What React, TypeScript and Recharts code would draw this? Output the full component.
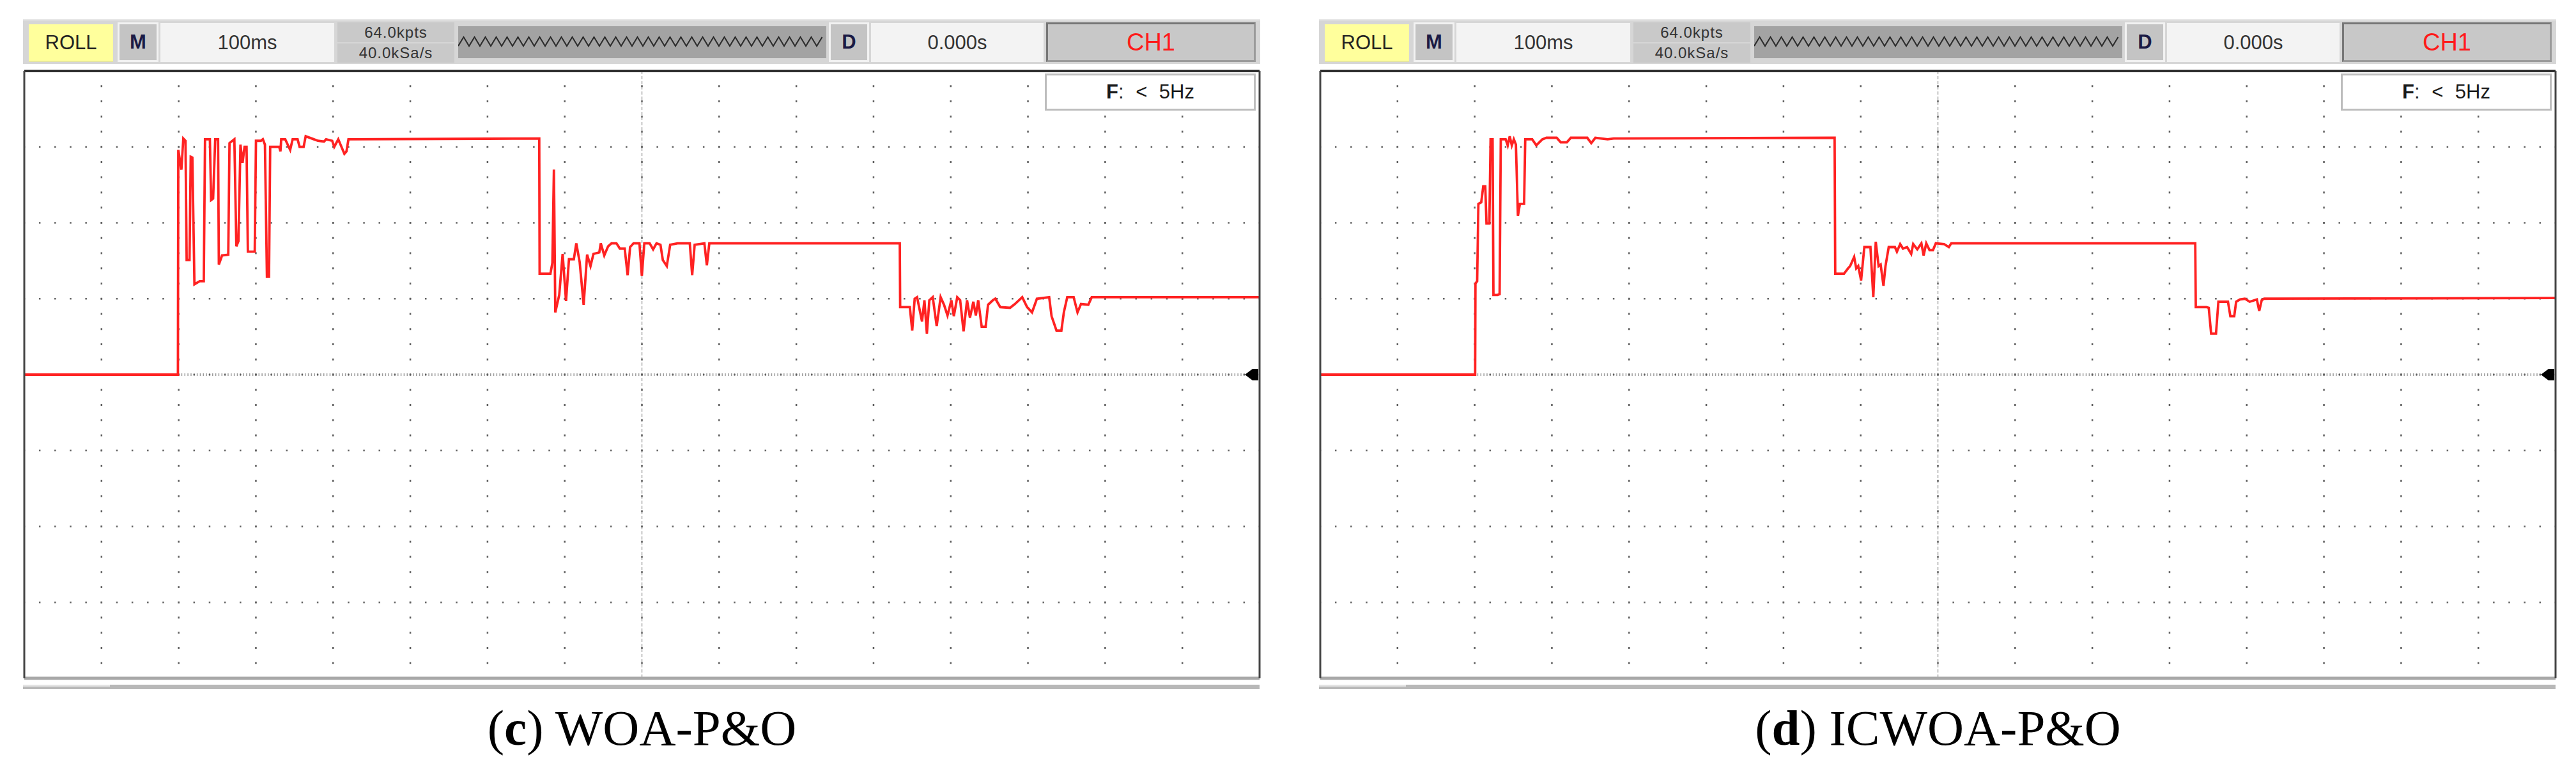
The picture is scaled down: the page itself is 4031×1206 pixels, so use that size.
import React from "react";
import { LineChart, Line, XAxis, YAxis, CartesianGrid, ReferenceDot } from "recharts";

// time in ms (100 ms per division), level in divisions above the ground marker

// (c) WOA-P&O
const woaTime = [
  0, 199, 199.5, 203.5, 206, 208.8, 210.3, 214, 215.6, 217.7,
  220.4, 227.2, 232.5, 234.1, 240.4, 242, 244.6, 247.3, 251, 252,
  256.2, 264.2, 265.8, 272.1, 274.7, 277.4, 280, 282.7, 285.3, 287.9,
  289.6, 298.5, 300.1, 306.4, 309, 311.7, 314.3, 317, 318.5, 330.2,
  331.8, 332.8, 338, 344.4, 347.6, 354, 356.6, 361.8, 364.5, 375.1,
  380.3, 388.2, 390.9, 398.8, 401.5, 406.7, 414.6, 417.3, 419.9, 667,
  667.5, 681.5, 684, 686, 687.8, 692.9, 697.3, 701.7, 705.5, 711.8,
  715, 719.4, 724.5, 729, 733.4, 737.2, 744.8, 746.7, 751.2, 756.2,
  760.6, 767, 771.4, 777.7, 781.5, 784.7, 789.1, 796.8, 799.9, 803.1,
  810, 814.5, 818.9, 824, 827.1, 832.2, 836.6, 846.1, 862, 865.1,
  868.3, 880.9, 884.1, 887.3, 1134, 1134.5, 1147, 1150.1, 1153.3, 1156.4,
  1162.8, 1165.9, 1169.1, 1172.3, 1176.7, 1181.8, 1186.9, 1191.3, 1195.8, 1200.8,
  1204, 1208.4, 1212.2, 1216.6, 1221.1, 1224.9, 1229.3, 1232.5, 1235.6, 1240.1,
  1245.2, 1248.3, 1254.6, 1257.8, 1264.1, 1276.8, 1283.1, 1292.6, 1298.9, 1305.3,
  1311.6, 1327.5, 1330.6, 1337, 1343.3, 1346.5, 1350.9, 1359.2, 1364.2, 1368.7,
  1378.2, 1382.6, 1600,
];
const woaLevel = [
  0, 0, 2.96, 2.7, 3.11, 3.08, 1.51, 1.51, 2.87, 2.86,
  1.19, 1.23, 1.23, 3.1, 3.1, 2.3, 2.32, 3.1, 3.1, 1.45,
  1.57, 1.58, 3.05, 3.1, 1.69, 1.76, 3.03, 2.79, 3.0, 3.0,
  1.62, 1.62, 3.08, 3.08, 3.1, 3.03, 1.29, 1.29, 3.0, 3.0,
  2.94, 3.1, 3.1, 2.96, 3.1, 3.1, 3.0, 3.0, 3.14, 3.1,
  3.08, 3.07, 3.1, 3.08, 3.0, 3.1, 2.91, 2.94, 3.1, 3.11,
  1.33, 1.33, 1.47, 2.7, 0.82, 1.05, 1.59, 0.97, 1.52, 1.52,
  1.73, 1.48, 0.92, 1.58, 1.43, 1.59, 1.61, 1.73, 1.57, 1.69,
  1.73, 1.73, 1.66, 1.66, 1.31, 1.68, 1.73, 1.73, 1.3, 1.73,
  1.73, 1.65, 1.73, 1.71, 1.51, 1.43, 1.71, 1.73, 1.73, 1.31,
  1.71, 1.73, 1.44, 1.73, 1.73, 0.89, 0.89, 0.58, 1.0, 1.02,
  0.7, 0.98, 0.54, 0.98, 1.02, 0.64, 1.02, 0.92, 0.78, 0.98,
  0.77, 1.02, 0.98, 0.57, 0.98, 0.75, 0.96, 0.78, 0.98, 0.63,
  0.63, 0.92, 0.98, 1.0, 0.89, 0.88, 0.93, 1.02, 0.89, 0.82,
  1.0, 1.02, 0.77, 0.58, 0.58, 0.82, 1.02, 1.02, 0.82, 0.93,
  0.92, 1.02, 1.02,
];

// (d) ICWOA-P&O
const icwoaTime = [
  0, 200.6, 201, 203.2, 204.8, 208.5, 211.1, 213.7, 215.3, 219,
  220.6, 223.2, 224.3, 229.6, 232.3, 233.8, 240.1, 242.8, 245.4, 248.1,
  250.7, 253.4, 256, 258.6, 264, 265.5, 274.5, 279.8, 287.7, 293,
  306.2, 311.4, 319.4, 324.6, 345.8, 351, 356.3, 372.2, 380.1, 666.2,
  667, 678.4, 683.6, 686.3, 691.5, 694.2, 696.8, 700.5, 704.7, 712.6,
  716.3, 719.5, 723.2, 725.8, 729.5, 732.1, 736.3, 744.3, 746.9, 751.1,
  754.8, 760.1, 765.4, 768, 773.3, 778.6, 781.5, 784.9, 789.2, 793.6,
  797.3, 807.9, 814.2, 817.3, 1133.3, 1134, 1147.7, 1150.8, 1153.9, 1160.2,
  1163.3, 1175.7, 1178.8, 1183.8, 1186.3, 1191.3, 1197.6, 1203.8, 1213.1, 1216.2,
  1219.4, 1222.5, 1600,
];
const icwoaLevel = [
  0, 0, 1.2, 1.23, 2.25, 2.27, 2.48, 2.48, 1.99, 1.99,
  3.1, 3.1, 1.05, 1.05, 1.06, 3.1, 3.1, 3.02, 3.14, 3.02,
  3.1, 3.03, 2.09, 2.25, 2.25, 3.1, 3.1, 3.02, 3.1, 3.12,
  3.12, 3.06, 3.06, 3.12, 3.12, 3.05, 3.12, 3.1, 3.11, 3.12,
  1.33, 1.33, 1.4, 1.43, 1.55, 1.4, 1.43, 1.24, 1.68, 1.68,
  1.02, 1.75, 1.43, 1.45, 1.17, 1.43, 1.68, 1.68, 1.62, 1.72,
  1.66, 1.68, 1.59, 1.72, 1.65, 1.73, 1.57, 1.73, 1.64, 1.64,
  1.73, 1.72, 1.68, 1.73, 1.73, 0.89, 0.89, 0.88, 0.54, 0.54,
  0.96, 0.96, 0.77, 0.77, 0.96, 0.99, 1.0, 0.96, 0.99, 0.84,
  0.98, 1.0, 1.01,
];

// scope screen: 16 x 8 divisions, 5 minor steps per division
const timeDomain = [0, 1600];
const levelDomain = [-4, 4];
const xTicks = Array.from({ length: 81 }, (_, i) => i * 20);
const yTicks = Array.from({ length: 41 }, (_, i) => Math.round((-4 + i * 0.2) * 10) / 10);
const gridCols = Array.from({ length: 15 }, (_, i) => (i + 1) * 100);
const gridRows = [-3, -2, -1, 0, 1, 2, 3];

const headerText = {
  mode: "ROLL",
  m: "M",
  timebase: "100ms",
  memory: "64.0kpts",
  rate: "40.0kSa/s",
  d: "D",
  delay: "0.000s",
  channel: "CH1",
};

const panels = [
  { x0: 0, tag: "c", name: "WOA-P&O", time: woaTime, level: woaLevel },
  { x0: 2028, tag: "d", name: "ICWOA-P&O", time: icwoaTime, level: icwoaLevel },
];

const PLOT_LEFT = 38;
const PLOT_TOP = 111;
const PLOT_W = 1933;
const PLOT_H = 950;
const PAD = 10;

const SANS = '"Liberation Sans", Arial, sans-serif';
const SERIF = '"Liberation Serif", "DejaVu Serif", serif';

function Box({ left, top, width, height, style, children }: any) {
  return (
    <div
      style={{
        position: "absolute",
        left,
        top,
        width,
        height,
        boxSizing: "border-box",
        display: "flex",
        alignItems: "center",
        justifyContent: "center",
        fontFamily: SANS,
        whiteSpace: "nowrap",
        ...style,
      }}
    >
      {children}
    </div>
  );
}

function Zigzag({ width, height }: { width: number; height: number }) {
  const pts: string[] = [];
  for (let i = 0; i * 8.5 <= width; i++) pts.push(`${i * 8.5},${i % 2 ? 17 : 31}`);
  return (
    <svg width={width} height={height} style={{ display: "block" }}>
      <polyline points={pts.join(" ")} fill="none" stroke="#2a2a2a" strokeWidth={2} />
    </svg>
  );
}

function Header({ x0 }: { x0: number }) {
  const sideBox = {
    background: "#c4c4c4",
    border: "3px solid #f2f2f2",
    color: "#1a1a44",
    fontWeight: 700,
    fontSize: 31,
  };
  return (
    <>
      <div
        style={{
          position: "absolute",
          left: x0 + 36,
          top: 30,
          width: 1936,
          height: 70,
          background: "#d6d6d6",
          borderTop: "2px solid #e6e6e6",
          boxSizing: "border-box",
        }}
      />
      <Box left={x0 + 45} top={38} width={132} height={59} style={{ background: "#ffff9c", borderBottom: "2px solid #e6e6a0", color: "#222", fontSize: 31 }}>
        {headerText.mode}
      </Box>
      <Box left={x0 + 184} top={35} width={64} height={62} style={sideBox}>
        {headerText.m}
      </Box>
      <Box left={x0 + 251} top={36} width={272} height={61} style={{ background: "#f3f3f3", color: "#333", fontSize: 31 }}>
        {headerText.timebase}
      </Box>
      <Box left={x0 + 528} top={35} width={183} height={31} style={{ background: "#c9c9c9", color: "#333", fontSize: 24, letterSpacing: 1 }}>
        {headerText.memory}
      </Box>
      <Box left={x0 + 528} top={68} width={183} height={30} style={{ background: "#c9c9c9", color: "#333", fontSize: 24, letterSpacing: 1 }}>
        {headerText.rate}
      </Box>
      <Box left={x0 + 717} top={41} width={576} height={50} style={{ background: "#a3a3a3", display: "block" }}>
        <Zigzag width={576} height={50} />
      </Box>
      <Box left={x0 + 1297} top={35} width={63} height={62} style={sideBox}>
        {headerText.d}
      </Box>
      <Box left={x0 + 1363} top={36} width={270} height={61} style={{ background: "#f3f3f3", color: "#333", fontSize: 31 }}>
        {headerText.delay}
      </Box>
      <Box
        left={x0 + 1637}
        top={35}
        width={328}
        height={62}
        style={{
          background: "#c8c8c8",
          borderTop: "3px solid #767676",
          borderLeft: "3px solid #767676",
          borderRight: "3px solid #9a9a9a",
          borderBottom: "3px solid #9a9a9a",
          color: "#ff1a1a",
          fontSize: 38,
        }}
      >
        {headerText.channel}
      </Box>
    </>
  );
}

function ScopePanel({ x0, tag, name, time, level }: any) {
  const data = time.map((t: number, i: number) => ({ t, v: level[i] }));
  const yPix = (offset: any, v: number) =>
    offset.top + ((levelDomain[1] - v) / (levelDomain[1] - levelDomain[0])) * offset.height;
  const xPix = (offset: any, t: number) =>
    offset.left + ((t - timeDomain[0]) / (timeDomain[1] - timeDomain[0])) * offset.width;
  const colStep = PLOT_W / 80;
  const rowStep = PLOT_H / 40;

  return (
    <>
      <Header x0={x0} />
      <div style={{ position: "absolute", left: x0 + PLOT_LEFT - PAD, top: PLOT_TOP - PAD }}>
        <LineChart
          width={PLOT_W + 2 * PAD}
          height={PLOT_H + 2 * PAD}
          data={data}
          margin={{ top: PAD, right: PAD, bottom: PAD, left: PAD }}
        >
          {/* centre cross: fine ruler on the ground line, light dashes on the centre column */}
          <CartesianGrid
            xAxisId="bottom"
            yAxisId="left"
            vertical={false}
            stroke="#9c9c9c"
            strokeWidth={4}
            strokeDasharray={`1.5 ${colStep / 5 - 1.5}`}
            strokeDashoffset={0.75}
            horizontalCoordinatesGenerator={({ offset }: any) => [yPix(offset, 0)]}
          />
          <CartesianGrid
            xAxisId="bottom"
            yAxisId="left"
            horizontal={false}
            stroke="#a8a8a8"
            strokeWidth={1.5}
            strokeDasharray="5 3"
            verticalCoordinatesGenerator={({ offset }: any) => [xPix(offset, 800)]}
          />
          {/* dotted major rows and columns */}
          <CartesianGrid
            xAxisId="bottom"
            yAxisId="left"
            vertical={false}
            stroke="#606060"
            strokeWidth={2.5}
            strokeDasharray={`2.5 ${colStep - 2.5}`}
            strokeDashoffset={1.25}
            horizontalCoordinatesGenerator={({ offset }: any) => gridRows.map((r) => yPix(offset, r))}
          />
          <CartesianGrid
            xAxisId="bottom"
            yAxisId="left"
            horizontal={false}
            stroke="#606060"
            strokeWidth={2.5}
            strokeDasharray={`3 ${rowStep - 3}`}
            strokeDashoffset={1.5}
            verticalCoordinatesGenerator={({ offset }: any) => gridCols.map((c) => xPix(offset, c))}
          />
          <XAxis
            xAxisId="bottom"
            dataKey="t"
            type="number"
            domain={timeDomain}
            allowDataOverflow
            ticks={xTicks}
            interval={0}
            tick={false}
            mirror
            tickSize={6}
            axisLine={{ stroke: "#a8a8a8", strokeWidth: 5 }}
            tickLine={{ stroke: "#4a4a4a", strokeWidth: 2 }}
          />
          <XAxis
            xAxisId="top"
            orientation="top"
            type="number"
            domain={timeDomain}
            allowDataOverflow
            ticks={xTicks}
            interval={0}
            tick={false}
            mirror
            tickSize={6}
            axisLine={{ stroke: "#2e2e2e", strokeWidth: 4 }}
            tickLine={{ stroke: "#3a3a3a", strokeWidth: 2 }}
          />
          <YAxis
            yAxisId="left"
            type="number"
            domain={levelDomain}
            allowDataOverflow
            ticks={yTicks}
            interval={0}
            tick={false}
            mirror
            tickSize={6}
            axisLine={{ stroke: "#444", strokeWidth: 3 }}
            tickLine={{ stroke: "#333", strokeWidth: 2.5 }}
          />
          <YAxis
            yAxisId="right"
            orientation="right"
            type="number"
            domain={levelDomain}
            allowDataOverflow
            ticks={yTicks}
            interval={0}
            tick={false}
            mirror
            tickSize={6}
            axisLine={{ stroke: "#444", strokeWidth: 3 }}
            tickLine={{ stroke: "#333", strokeWidth: 2.5 }}
          />
          <Line
            xAxisId="bottom"
            yAxisId="left"
            type="linear"
            dataKey="v"
            stroke="#ff2222"
            strokeWidth={3.8}
            dot={false}
            activeDot={false}
            isAnimationActive={false}
          />
          <ReferenceDot
            xAxisId="bottom"
            yAxisId="left"
            x={1600}
            y={0}
            ifOverflow="visible"
            shape={(p: any) => (
              <path
                d={`M${p.cx - 23},${p.cy} L${p.cx - 11},${p.cy - 9} L${p.cx - 2},${p.cy - 9} L${p.cx - 2},${p.cy + 9} L${p.cx - 11},${p.cy + 9} Z`}
                fill="#000"
              />
            )}
          />
        </LineChart>
      </div>
      {/* frequency readout */}
      <Box
        left={x0 + 1635}
        top={115}
        width={330}
        height={58}
        style={{ background: "#fff", border: "3px solid #bdbdbd", color: "#1a1a1a", fontSize: 31, wordSpacing: 10 }}
      >
        <b>F</b>:&nbsp;&lt; 5Hz
      </Box>
      {/* scroll bar under the screen */}
      <div style={{ position: "absolute", left: x0 + 36, top: 1071, width: 1935, height: 7, background: "#b8b8b8" }} />
      <div style={{ position: "absolute", left: x0 + 36, top: 1071, width: 136, height: 3, background: "#e4e4e4" }} />
      {/* caption */}
      <div
        style={{
          position: "absolute",
          left: x0 + PLOT_LEFT,
          width: PLOT_W,
          top: 1099,
          textAlign: "center",
          fontFamily: SERIF,
          fontSize: 79,
          lineHeight: "79px",
          color: "#000",
          whiteSpace: "nowrap",
        }}
      >
        (<b>{tag}</b>) {name}
      </div>
    </>
  );
}

export default function App() {
  return (
    <div
      style={{
        position: "absolute",
        left: 0,
        top: 0,
        width: 4031,
        height: 1206,
        background: "#fff",
        overflow: "hidden",
      }}
    >
      {panels.map((p) => (
        <ScopePanel key={p.tag} {...p} />
      ))}
    </div>
  );
}
